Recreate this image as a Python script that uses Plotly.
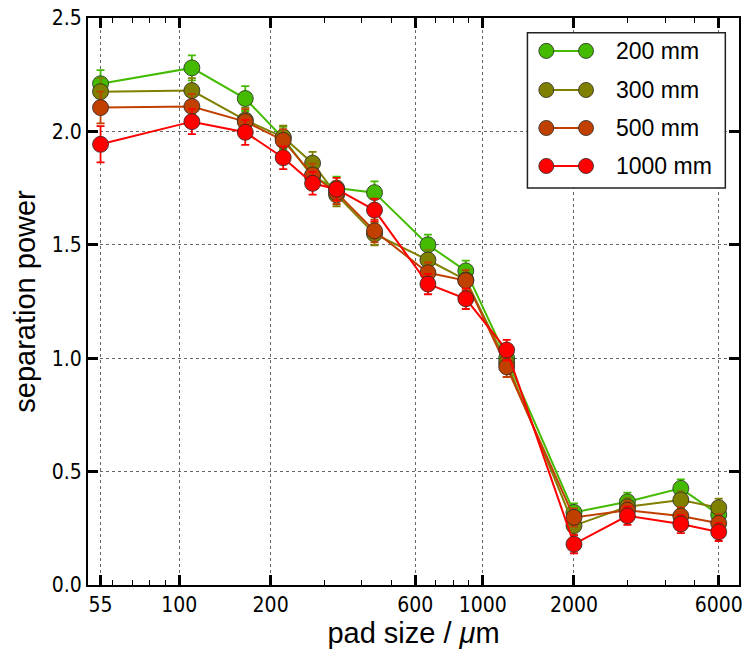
import plotly.graph_objects as go

pad_size = [55, 110, 165, 220, 275, 330, 440, 660, 880, 1200, 2000, 3000, 4500, 6000]

series_names = ["200 mm", "300 mm", "500 mm", "1000 mm"]
sep_200 = [2.21, 2.28, 2.145, 1.97, 1.80, 1.75, 1.73, 1.50, 1.385, 1.00, 0.32, 0.367, 0.426, 0.31]
sep_300 = [2.175, 2.18, 2.05, 1.975, 1.86, 1.72, 1.548, 1.433, 1.345, 0.98, 0.262, 0.345, 0.375, 0.341]
sep_500 = [2.105, 2.11, 2.043, 1.96, 1.808, 1.73, 1.561, 1.377, 1.342, 0.962, 0.298, 0.33, 0.304, 0.272]
sep_1000 = [1.943, 2.043, 1.996, 1.884, 1.771, 1.745, 1.653, 1.327, 1.262, 1.036, 0.18, 0.305, 0.269, 0.234]

err_200 = [0.06, 0.055, 0.055, 0.05, 0.05, 0.05, 0.05, 0.045, 0.045, 0.045, 0.04, 0.04, 0.04, 0.04]
err_300 = [0.06, 0.055, 0.055, 0.05, 0.05, 0.05, 0.05, 0.045, 0.045, 0.045, 0.04, 0.04, 0.04, 0.04]
err_500 = [0.07, 0.055, 0.055, 0.05, 0.05, 0.05, 0.05, 0.045, 0.045, 0.045, 0.04, 0.04, 0.04, 0.04]
err_1000 = [0.08, 0.055, 0.055, 0.05, 0.05, 0.05, 0.05, 0.045, 0.045, 0.045, 0.04, 0.04, 0.04, 0.04]

colors = ["#44bb00", "#808000", "#c04000", "#ff0000"]

x_tickvals = [55, 100, 200, 600, 1000, 2000, 6000]
x_ticktext = ["55", "100", "200", "600", "1000", "2000", "6000"]
x_minor = [60, 70, 80, 90, 300, 400, 500, 700, 800, 900, 3000, 4000, 5000]
y_tickvals = [0.0, 0.5, 1.0, 1.5, 2.0, 2.5]
y_ticktext = ["0.0", "0.5", "1.0", "1.5", "2.0", "2.5"]

FONT = "DejaVu Sans Condensed, Liberation Sans, DejaVu Sans, sans-serif"
TFONT = "Liberation Sans, DejaVu Sans, sans-serif"

fig = go.Figure()
all_y = [sep_200, sep_300, sep_500, sep_1000]
all_e = [err_200, err_300, err_500, err_1000]
for name, ys, es, c in zip(series_names, all_y, all_e, colors):
    fig.add_trace(go.Scatter(
        x=pad_size, y=ys, name=name, mode="lines+markers",
        line=dict(color=c, width=2),
        marker=dict(color=c, size=16, line=dict(color="rgba(40,40,40,0.8)", width=1)),
        error_y=dict(type="data", array=es, color=c, thickness=1.8, width=4),
        showlegend=False,
    ))

# manual legend (matplotlib style: two markers per entry)
fig.add_shape(type="rect", xref="paper", yref="paper", x0=0.675, x1=0.979, y0=0.700, y1=0.974,
              line=dict(color="#222222", width=1.5), fillcolor="white", layer="above")
leg_y = [0.942, 0.873, 0.806, 0.739]
for name, c, ly in zip(series_names, colors, leg_y):
    fig.add_shape(type="line", xref="paper", yref="paper", x0=0.704, x1=0.765, y0=ly, y1=ly,
                  line=dict(color=c, width=2), layer="above")
    for lx in (0.704, 0.765):
        fig.add_shape(type="circle", xref="paper", yref="paper",
                      x0=lx - 0.0115, x1=lx + 0.0115, y0=ly - 0.0133, y1=ly + 0.0133,
                      fillcolor=c, line=dict(color="rgba(40,40,40,0.8)", width=1), layer="above")
    fig.add_annotation(xref="paper", yref="paper", x=0.808, y=ly, text=name, showarrow=False,
                       xanchor="left", yanchor="middle", font=dict(size=23, color="black", family=TFONT))

fig.update_xaxes(
    type="log", range=[1.699, 3.845],
    tickvals=x_tickvals, ticktext=x_ticktext,
    ticks="inside", ticklen=10, tickwidth=3, tickcolor="black",
    minor=dict(tickvals=x_minor, ticks="inside", ticklen=5, tickwidth=1, tickcolor="black", showgrid=False),
    showgrid=True, gridcolor="#666666", griddash="dot", gridwidth=1,
    showline=True, linecolor="black", linewidth=2, mirror="ticks",
    zeroline=False,
    tickfont=dict(size=21, family=FONT, color="black"),
    title=dict(text="pad size / <i>μ</i>m", font=dict(size=29, family=TFONT, color="black"), standoff=4),
)
fig.update_yaxes(
    range=[0, 2.5],
    tickvals=y_tickvals, ticktext=y_ticktext,
    ticks="inside", ticklen=10, tickwidth=3, tickcolor="black",
    showgrid=True, gridcolor="#666666", griddash="dot", gridwidth=1,
    showline=True, linecolor="black", linewidth=2, mirror="ticks",
    zeroline=False,
    tickfont=dict(size=21, family=FONT, color="black"),
    title=dict(text="separation power", font=dict(size=29, family=TFONT, color="black"), standoff=8),
)
fig.update_layout(
    width=748, height=649,
    margin=dict(l=88, r=5, t=18, b=64),
    plot_bgcolor="white", paper_bgcolor="white",
    font=dict(family=FONT),
)
fig.write_html("out.html")
